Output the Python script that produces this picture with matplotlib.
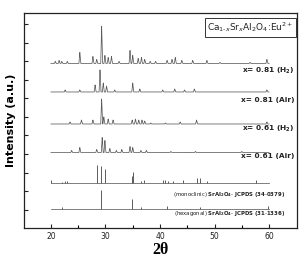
import matplotlib.pyplot as plt
import numpy as np

# measured patterns: peak positions (2theta) and heights (px-ish units)
p081_h2_pos = [20.8, 21.5, 22.0, 23.0, 25.3, 27.7, 28.4, 29.3, 29.9, 30.5, 31.1, 32.5, 34.5, 35.0,
               36.0, 36.6, 37.2, 38.2, 39.2, 41.3, 42.2, 42.8, 44.0, 46.0, 48.6, 51.0, 56.5, 59.6]
p081_h2_int = [2, 3, 2, 2, 11, 7, 4, 37, 8, 6, 7, 2, 13, 8,
               5, 6, 4, 2, 2, 3, 4, 6, 3, 3, 3, 1, 1, 4]

p081_air_pos = [22.6, 25.3, 28.1, 29.0, 29.6, 30.2, 31.7, 35.0, 36.3, 40.5, 42.7, 44.5, 46.3, 59.6]
p081_air_int = [2, 2, 7, 22, 9, 6, 2, 9, 3, 2, 3, 2, 3, 2]

p061_h2_pos = [23.5, 25.6, 27.7, 29.3, 29.7, 30.5, 31.4, 34.9, 35.5, 36.1, 36.7, 37.2, 38.3,
               41.0, 43.7, 46.7, 59.6]
p061_h2_int = [2, 4, 4, 25, 7, 5, 4, 4, 5, 4, 4, 3, 1,
               1, 2, 4, 2]

p061_air_pos = [23.8, 25.3, 28.4, 29.4, 29.9, 30.8, 32.0, 33.0, 34.5, 35.0, 36.5, 37.5, 42.0, 46.5, 55.0]
p061_air_int = [2, 5, 3, 15, 12, 4, 2, 3, 6, 5, 2, 2, 1, 1, 1]

# reference sticks
mono_pos = [20.1, 22.0, 22.6, 22.9, 28.4, 29.2, 29.9, 34.8, 35.0, 36.6, 37.0,
            40.6, 40.9, 41.5, 42.3, 44.2, 46.8, 47.3, 48.6, 57.6]
mono_int = [3, 1.5, 2, 2, 18, 17, 14, 7, 11, 2, 3,
            3, 3, 2, 2, 3, 5, 5, 2, 3]

hexa_pos = [22.0, 29.2, 34.9, 36.6, 41.2, 47.3, 59.8]
hexa_int = [2, 19, 10, 2, 3, 2, 3]

measured = [(p081_h2_pos, p081_h2_int, 164.5),
            (p081_air_pos, p081_air_int, 136.0),
            (p061_h2_pos, p061_h2_int, 104.0),
            (p061_air_pos, p061_air_int, 75.5)]
sticks = [(mono_pos, mono_int, 44.7), (hexa_pos, hexa_int, 18.7)]

labels = ['x= 0.81 (H$_\\mathbf{2}$)', 'x= 0.81 (Air)', 'x= 0.61 (H$_\\mathbf{2}$)', 'x= 0.61 (Air)']
label_y = [157, 128, 99, 72]

col = '#5c5c5c'


def profile(x, pos, hts, w=0.17):
    y = np.zeros_like(x)
    for p, h in zip(pos, hts):
        y = np.maximum(y, h * np.clip(1 - np.abs(x - p) / w, 0, None))
    return y


def main():
    fig = plt.figure(figsize=(2.99, 2.58), dpi=100)
    ax = fig.add_axes([0.080, 0.116, 0.913, 0.834])

    x = np.linspace(20, 60, 4001)
    for pos, hts, base in measured:
        ax.plot(x, base + profile(x, pos, hts), color=col, lw=0.55)

    for pos, hts, base in sticks:
        ax.plot([20, 60], [base, base], color=col, lw=0.55)
        ax.vlines(pos, base, [base + h for h in hts], color=col, lw=0.7)

    for lab, yy in zip(labels, label_y):
        ax.text(64.6, yy, lab, ha='right', va='center', fontsize=5.3,
                fontweight='bold', color='#222222')

    ax.text(63.0, 34, '(monoclinic) $\\mathbf{SrAl_2O_4}$- $\\mathbf{JCPDS\\ (34\\text{-}0379)}$',
            ha='right', va='center', fontsize=3.9, color='#222222')
    ax.text(63.0, 15, '(hexagonal) $\\mathbf{SrAl_2O_4}$- $\\mathbf{JCPDS\\ (31\\text{-}1336)}$',
            ha='right', va='center', fontsize=3.9, color='#222222')

    ax.text(0.988, 0.965, 'Ca$_{1\\text{-}x}$Sr$_x$Al$_2$O$_4$:Eu$^{2+}$', transform=ax.transAxes,
            ha='right', va='top', fontsize=6.5, color='#222222',
            bbox=dict(boxstyle='square,pad=0.3', fc='white', ec='#333333', lw=0.7))

    ax.set_xlim(15.05, 65.1)
    ax.set_ylim(0, 215)
    ax.set_xticks([20, 30, 40, 50, 60])
    ax.set_xticks([25, 35, 45, 55], minor=True)
    ax.set_yticks([18.5 * k for k in range(1, 12)])
    ax.set_yticklabels([])
    ax.tick_params(direction='in', length=3, width=0.8, labelsize=5.5, colors='#222222', pad=3)
    ax.tick_params(which='minor', direction='in', length=2, width=0.8)
    for s in ax.spines.values():
        s.set_linewidth(0.9)
        s.set_color('#222222')

    ax.set_ylabel('Intensity (a.u.)', fontsize=8, fontweight='bold', labelpad=3)
    ax.set_xlabel('2θ', fontsize=11.5, fontweight='bold', family='Liberation Serif', labelpad=0.5)
    fig.savefig('out.png', dpi=100)


if __name__ == '__main__':
    main()
